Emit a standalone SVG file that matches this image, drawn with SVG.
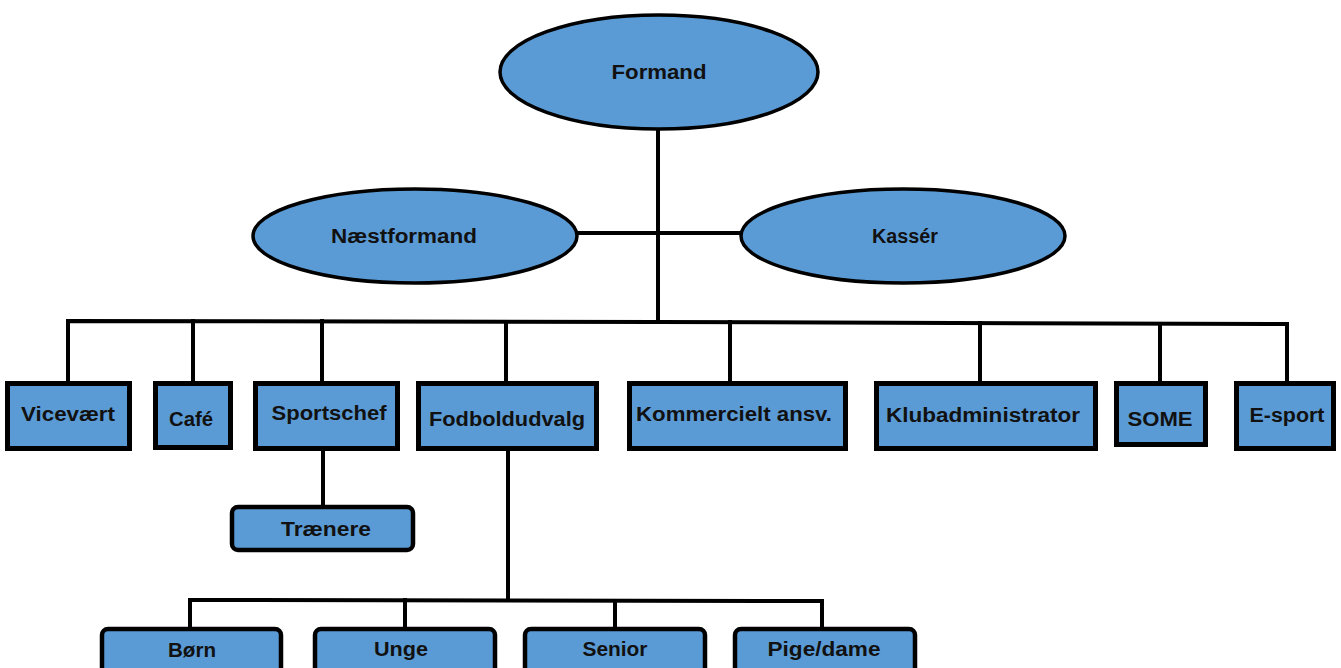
<svg xmlns="http://www.w3.org/2000/svg" width="1341" height="668" viewBox="0 0 1341 668">
<style>
.n{fill:#5B9BD5;stroke:#000;stroke-width:5}
.e{fill:#5B9BD5;stroke:#000;stroke-width:3.5}
.r{fill:#5B9BD5;stroke:#000;stroke-width:4.5}
.c{fill:none;stroke:#000;stroke-width:4;stroke-linecap:square}
text{font-family:"Liberation Sans",Arial,sans-serif;font-weight:bold;font-size:20px;fill:#111;text-anchor:middle}
</style>
<rect width="1341" height="668" fill="#fff"/>
<g id="connectors">
<line class="c" x1="658" y1="130" x2="658" y2="322"/>
<line class="c" x1="578" y1="233" x2="740" y2="233"/>
<polyline class="c" points="68,381 68,321 658,322 1287,324 1287,381"/>
<line class="c" x1="193" y1="321" x2="193" y2="381"/>
<line class="c" x1="322" y1="321" x2="322" y2="381"/>
<line class="c" x1="506" y1="322" x2="506" y2="381"/>
<line class="c" x1="730" y1="322" x2="730" y2="381"/>
<line class="c" x1="980" y1="323" x2="980" y2="381"/>
<line class="c" x1="1160" y1="324" x2="1160" y2="381"/>
<line class="c" x1="323" y1="451" x2="323" y2="505"/>
<line class="c" x1="508" y1="451" x2="508" y2="600"/>
<polyline class="c" points="190,627 190,600 822,601 822,627"/>
<line class="c" x1="405" y1="600" x2="405" y2="627"/>
<line class="c" x1="615" y1="601" x2="615" y2="627"/>
</g>
<g id="formand"><ellipse class="e" cx="659" cy="72" rx="159" ry="57"/><text x="659" y="79" textLength="95" lengthAdjust="spacingAndGlyphs">Formand</text></g>
<g id="naestformand"><ellipse class="e" cx="415" cy="236" rx="162" ry="47"/><text x="404" y="243" textLength="146" lengthAdjust="spacingAndGlyphs">Næstformand</text></g>
<g id="kasser"><ellipse class="e" cx="903" cy="236" rx="162" ry="47"/><text x="905" y="243" textLength="66" lengthAdjust="spacingAndGlyphs">Kassér</text></g>
<g id="vicevaert"><rect class="n" x="7.5" y="383.5" width="122" height="65"/><text x="68" y="421" textLength="94" lengthAdjust="spacingAndGlyphs">Vicevært</text></g>
<g id="cafe"><rect class="n" x="155.5" y="383.5" width="75" height="64"/><text x="191" y="426" textLength="44" lengthAdjust="spacingAndGlyphs">Café</text></g>
<g id="sportschef"><rect class="n" x="255.5" y="383.5" width="142" height="65"/><text x="329" y="420" textLength="115" lengthAdjust="spacingAndGlyphs">Sportschef</text></g>
<g id="fodboldudvalg"><rect class="n" x="418.5" y="383.5" width="178" height="65"/><text x="507" y="426" textLength="156" lengthAdjust="spacingAndGlyphs">Fodboldudvalg</text></g>
<g id="kommercielt"><rect class="n" x="629.5" y="383.5" width="216" height="65"/><text x="734" y="421" textLength="196" lengthAdjust="spacingAndGlyphs">Kommercielt ansv.</text></g>
<g id="klubadministrator"><rect class="n" x="876.5" y="383.5" width="219" height="65"/><text x="983" y="422" textLength="194" lengthAdjust="spacingAndGlyphs">Klubadministrator</text></g>
<g id="some"><rect class="n" x="1116.5" y="383.5" width="89" height="61"/><text x="1160" y="426" textLength="65" lengthAdjust="spacingAndGlyphs">SOME</text></g>
<g id="esport"><rect class="n" x="1236.5" y="383.5" width="97" height="65"/><text x="1287" y="422" textLength="75" lengthAdjust="spacingAndGlyphs">E-sport</text></g>
<g id="traenere"><rect class="r" x="232" y="507" width="181" height="43" rx="6"/><text x="326" y="536" textLength="90" lengthAdjust="spacingAndGlyphs">Trænere</text></g>
<g id="born"><rect class="r" x="102" y="629" width="179" height="50" rx="6"/><text x="192" y="657" textLength="48" lengthAdjust="spacingAndGlyphs">Børn</text></g>
<g id="unge"><rect class="r" x="315" y="629" width="180" height="50" rx="6"/><text x="401" y="656" textLength="54" lengthAdjust="spacingAndGlyphs">Unge</text></g>
<g id="senior"><rect class="r" x="525" y="629" width="180" height="50" rx="6"/><text x="615" y="656" textLength="65" lengthAdjust="spacingAndGlyphs">Senior</text></g>
<g id="pigedame"><rect class="r" x="735" y="629" width="180" height="50" rx="6"/><text x="824" y="656" textLength="113" lengthAdjust="spacingAndGlyphs">Pige/dame</text></g>
</svg>
